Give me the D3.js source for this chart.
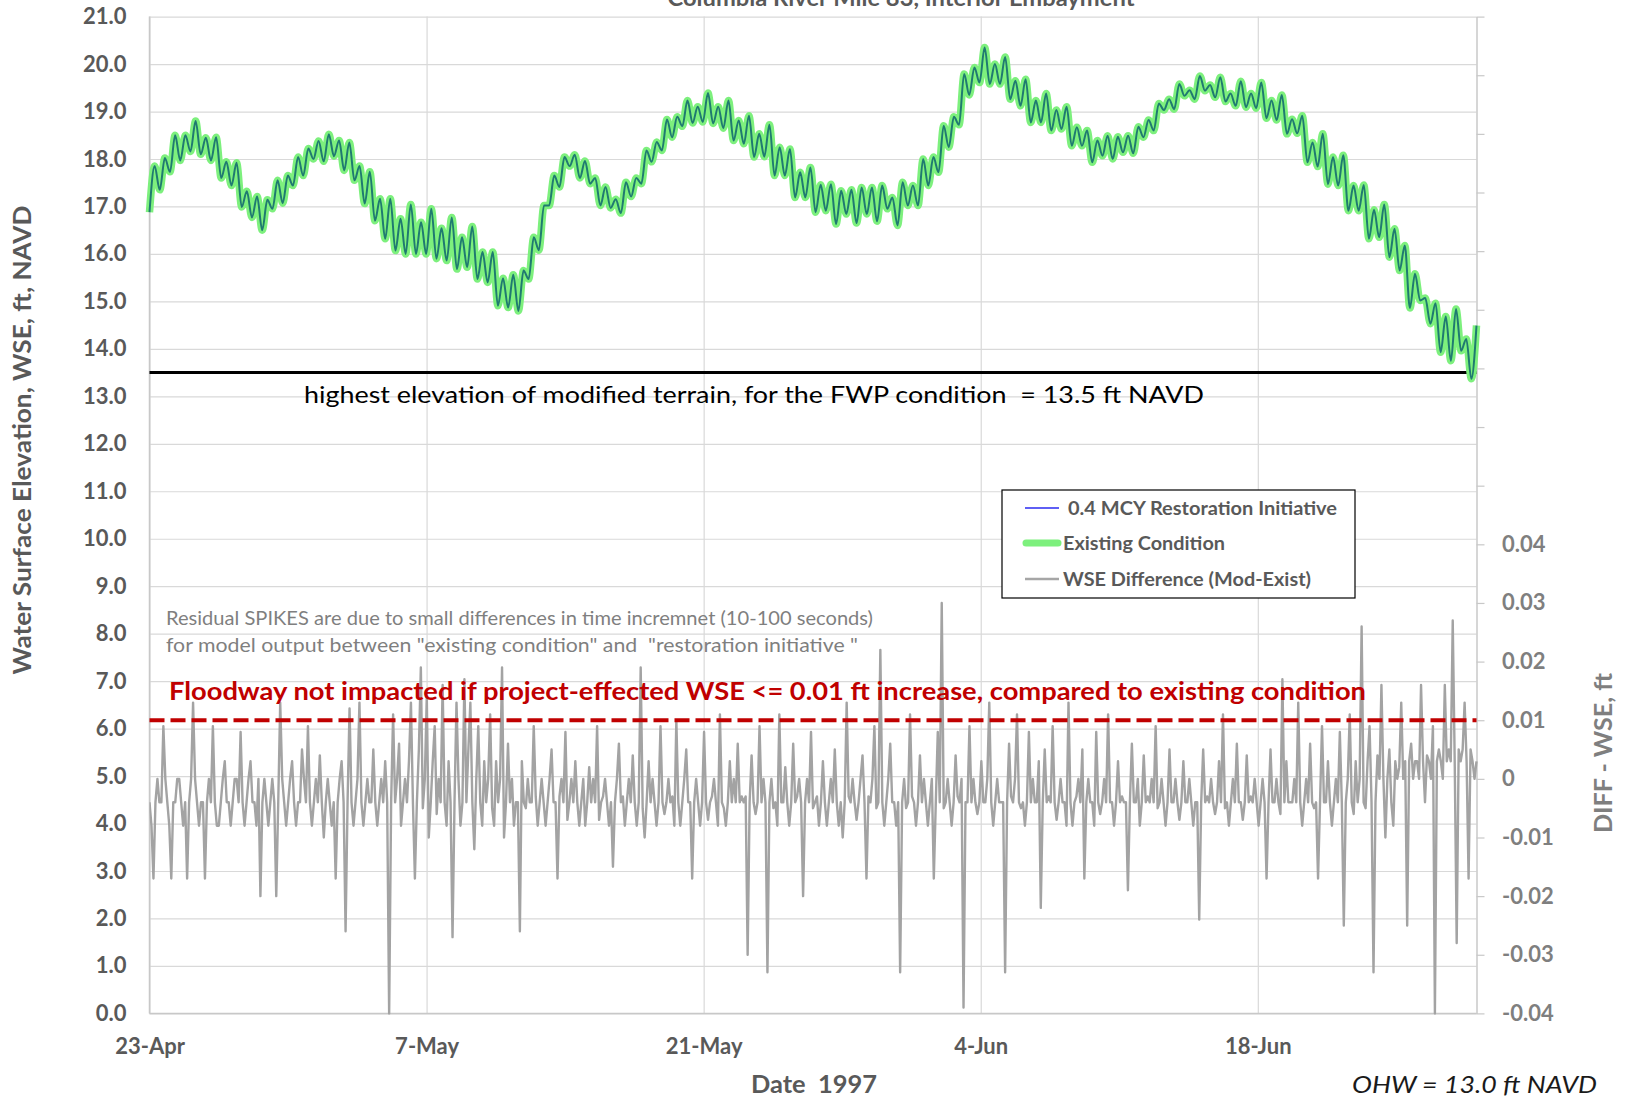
<!DOCTYPE html>
<html><head><meta charset="utf-8">
<script src="https://cdn.jsdelivr.net/npm/d3@7"></script>
<style>
html,body{margin:0;padding:0;background:#fff;}
svg{display:block;font-family:Lato,"Open Sans",sans-serif;}
</style></head><body>
<svg id="chart" width="1628" height="1098"></svg>
<script>
// ---------------- DATA ----------------
const chartTitle = "Columbia River Mile 83, Interior Embayment";
const startDay = "1997-04-23";
const spanDays = 67.05;
const xTickDates = ["1997-04-23","1997-05-07","1997-05-21","1997-06-04","1997-06-18"];
const leftTicks = [0,1,2,3,4,5,6,7,8,9,10,11,12,13,14,15,16,17,18,19,20,21];
const rightTicks = [-0.04,-0.03,-0.02,-0.01,0,0.01,0.02,0.03,0.04,0.05,0.06,0.07,0.08,0.09,0.10,0.11,0.12,0.13];
const rightTickLabels = ["-0.04","-0.03","-0.02","-0.01","0","0.01","0.02","0.03","0.04","","","","","","","","",""];
const seriesNames = ["0.4 MCY Restoration Initiative","Existing Condition","WSE Difference (Mod-Exist)"];
const terrainElevation = 13.5;
const floodwayLimit = 0.01;

// Existing condition WSE (ft NAVD): successive tidal highs/lows, evenly spaced in time
const existingWSE = [
16.88,17.85,17.35,18.02,17.73,18.5,17.97,18.5,18.16,18.8,18.1,18.45,17.97,18.46,17.6,17.94,17.44,17.92,16.99,17.32,
16.77,17.21,16.5,17.14,16.95,17.55,17.07,17.65,17.44,18.04,17.65,18.22,18.0,18.38,17.95,18.52,18.06,18.39,17.76,18.35,
17.55,17.85,17.06,17.73,16.7,17.16,16.32,17.16,16.07,16.74,16.0,17.04,16.0,16.67,16.0,16.95,15.9,16.54,15.86,16.77,
15.68,16.35,15.72,16.58,15.47,16.04,15.4,16.04,14.91,15.49,14.87,15.56,14.8,15.65,15.47,16.35,16.08,17.02,17.02,17.65,
17.41,18.04,17.85,18.09,17.6,17.96,17.48,17.6,17.02,17.41,16.97,17.15,16.86,17.51,17.21,17.6,17.48,18.18,17.94,18.36,
18.18,18.83,18.46,18.89,18.69,19.23,18.76,19.1,18.78,
19.39,18.75,19.1,18.65,19.23,18.39,18.81,18.32,18.91,18.04,
18.53,18.05,18.72,17.65,18.25,17.65,18.21,17.19,17.72,17.19,
17.82,16.88,17.46,16.91,17.47,16.63,17.33,16.84,17.35,16.65,
17.4,16.84,17.4,16.69,17.44,16.95,17.19,16.6,17.51,17.02,
17.44,17.02,18.0,17.44,18.04,17.72,18.7,18.25,18.89,18.72,
19.79,19.35,19.93,19.61,20.35,19.58,20.0,19.58,20.15,19.26,
19.65,19.12,19.68,18.77,19.23,18.77,19.38,18.6,19.03,18.63,
19.1,18.28,18.67,18.28,18.6,17.93,18.39,18.07,18.49,18.0,
18.47,18.14,18.49,18.12,18.68,18.46,18.82,18.6,19.17,19.03,
19.26,19.05,19.58,19.33,19.45,19.26,19.75,19.44,19.56,19.3,
19.72,19.21,19.38,19.12,19.64,19.09,19.38,19.07,19.61,18.86,
19.23,18.82,19.35,18.53,18.84,18.54,18.91,17.93,18.35,17.84,
18.53,17.47,18.04,17.44,18.08,16.91,17.44,16.91,17.45,16.32,
16.93,16.35,17.04,15.93,16.53,15.65,16.18,14.86,15.58,15.02,
15.07,14.53,14.96,13.93,14.68,13.75,14.84,13.96,14.21,13.37,
14.49
];
// Restoration initiative WSE overlaps the existing condition at chart scale
const restorationWSE = existingWSE;

// WSE difference (Mod - Exist), ft, ten readings per day
const diffWSE = [
-0.004,-0.008,-0.017,-0.004,0.000,-0.004,-0.004,0.009,0.000,-0.004,
-0.008,-0.017,-0.004,-0.004,0.000,0.000,-0.004,-0.008,-0.004,-0.017,
-0.004,0.000,0.013,0.000,-0.004,-0.008,-0.004,-0.004,-0.017,-0.004,
0.000,-0.004,0.009,-0.004,-0.008,-0.008,-0.004,0.000,0.003,-0.004,
-0.004,-0.008,-0.004,0.000,0.000,-0.004,0.008,-0.004,-0.008,-0.004,
0.000,0.003,-0.004,-0.004,-0.008,0.000,-0.020,-0.004,0.000,-0.004,
-0.008,-0.004,0.000,-0.004,-0.020,-0.004,0.013,0.000,-0.004,-0.008,
-0.004,0.000,0.003,-0.004,-0.008,-0.004,-0.004,0.005,0.000,-0.004,
0.009,-0.004,-0.008,-0.004,0.000,-0.004,0.004,-0.004,-0.010,-0.004,
0.000,-0.004,-0.008,-0.004,-0.017,-0.004,0.000,0.003,-0.004,-0.026,
-0.004,0.012,-0.004,-0.008,-0.004,0.000,0.013,-0.004,-0.008,-0.004,
0.000,-0.004,-0.004,0.005,-0.004,-0.008,-0.004,0.000,-0.004,0.003,
-0.004,-0.040,-0.004,0.011,-0.004,0.000,0.006,-0.008,-0.004,0.000,
-0.004,0.003,0.013,-0.004,-0.017,-0.004,0.005,0.019,-0.005,0.000,
0.014,-0.010,-0.004,0.003,0.009,-0.006,0.000,-0.004,0.016,-0.004,
-0.008,0.003,-0.004,-0.027,-0.004,0.013,0.000,-0.008,-0.004,0.017,
-0.004,0.005,0.013,-0.004,-0.012,0.000,0.009,-0.004,-0.008,0.003,
-0.004,0.000,0.011,-0.005,-0.008,0.003,-0.004,0.000,0.019,-0.010,
-0.004,0.006,-0.004,0.000,-0.008,-0.004,-0.004,-0.026,0.003,-0.004,
-0.005,0.000,-0.004,-0.004,0.009,-0.003,-0.008,-0.004,0.000,-0.004,
-0.008,-0.004,0.000,0.005,-0.004,-0.004,-0.017,-0.003,0.000,-0.004,
0.008,-0.007,-0.004,0.000,-0.004,0.003,-0.004,-0.008,-0.004,0.000,
-0.008,-0.004,0.002,-0.004,0.000,-0.004,0.009,-0.007,-0.004,-0.003,
0.000,-0.004,-0.008,-0.004,-0.015,-0.004,0.000,0.006,-0.004,-0.003,
-0.008,-0.004,0.000,-0.004,0.004,-0.004,-0.008,-0.004,0.019,-0.005,
-0.010,-0.004,0.003,-0.004,0.000,-0.004,-0.008,-0.004,0.009,-0.004,
-0.006,-0.004,0.000,-0.004,-0.003,-0.008,0.010,-0.004,-0.008,-0.004,
0.000,0.005,-0.004,-0.004,-0.017,-0.004,0.000,-0.004,-0.008,-0.004,
0.008,-0.004,-0.007,-0.004,-0.003,0.000,-0.004,-0.008,0.011,-0.004,
-0.005,-0.008,-0.004,0.003,-0.004,0.000,-0.004,0.006,-0.004,-0.003,
-0.004,-0.003,-0.030,-0.004,0.004,-0.004,-0.006,-0.004,0.009,-0.004,
0.000,-0.004,-0.033,-0.004,0.000,-0.005,-0.004,-0.008,0.011,-0.004,
-0.004,0.002,-0.004,-0.008,-0.004,0.006,-0.004,-0.003,0.000,-0.004,
-0.020,-0.004,0.000,-0.004,0.008,-0.005,-0.004,-0.003,-0.008,-0.004,
0.003,-0.004,-0.008,-0.004,0.000,-0.004,0.005,-0.004,-0.008,-0.004,
-0.010,-0.004,0.013,-0.003,-0.004,0.000,-0.004,-0.007,-0.004,0.000,
0.004,-0.004,-0.017,-0.003,-0.004,0.000,0.009,-0.005,-0.004,0.022,
-0.004,-0.008,-0.004,0.000,0.006,-0.004,-0.004,-0.008,-0.004,-0.033,
-0.004,0.000,-0.005,-0.004,0.011,-0.003,-0.004,-0.008,-0.004,0.004,
-0.004,0.000,-0.004,-0.008,-0.004,0.000,-0.017,-0.004,0.008,-0.004,
0.030,-0.005,-0.004,0.000,-0.004,-0.008,-0.004,0.004,-0.003,-0.004,
0.000,-0.039,-0.004,-0.004,0.009,-0.004,0.000,-0.004,-0.006,-0.004,
0.003,-0.004,-0.004,0.000,0.013,-0.004,-0.008,-0.004,0.000,-0.004,
-0.004,-0.004,-0.033,-0.004,0.006,-0.003,-0.004,0.000,0.011,-0.004,
-0.005,-0.004,-0.008,-0.004,0.008,-0.004,0.000,-0.004,-0.004,0.003,
-0.022,-0.004,0.005,-0.004,-0.003,-0.004,0.009,-0.004,-0.007,-0.004,
0.000,-0.004,-0.004,-0.008,0.013,-0.004,-0.008,-0.004,-0.003,0.000,
-0.004,0.005,-0.017,-0.004,0.000,-0.004,-0.004,-0.008,0.008,-0.004,
-0.006,-0.004,0.000,-0.004,0.011,-0.004,-0.004,-0.008,-0.004,0.003,
-0.004,-0.003,-0.004,-0.004,-0.019,-0.004,0.006,-0.004,-0.004,0.000,
-0.008,-0.004,0.004,-0.004,-0.003,-0.004,0.000,-0.004,0.009,-0.005,
-0.004,0.000,-0.004,-0.008,-0.004,0.005,-0.004,-0.004,0.000,-0.004,
-0.007,-0.004,0.003,-0.004,-0.004,0.000,-0.004,-0.008,-0.004,-0.004,
-0.024,-0.004,0.005,-0.004,-0.003,-0.004,0.000,-0.004,-0.006,-0.004,
0.003,-0.004,0.011,-0.005,-0.004,-0.008,-0.004,0.000,-0.004,0.006,
-0.004,-0.004,-0.007,-0.004,0.004,-0.004,-0.003,-0.004,0.000,-0.004,
-0.008,-0.004,0.000,-0.004,-0.017,-0.004,0.005,-0.004,-0.004,0.000,
-0.004,-0.006,0.017,-0.004,0.003,-0.004,-0.004,-0.004,0.000,-0.004,
0.013,-0.004,-0.008,-0.004,0.000,-0.004,0.006,-0.004,-0.005,-0.004,
-0.017,-0.004,0.009,-0.004,-0.004,0.003,-0.004,-0.008,-0.004,0.000,
-0.004,0.008,-0.004,-0.025,-0.004,0.000,0.011,-0.004,-0.006,0.003,
-0.004,0.000,0.026,-0.004,-0.005,0.003,0.009,-0.004,-0.033,-0.004,
0.004,0.000,0.016,0.000,-0.010,0.000,0.005,-0.004,-0.008,0.003,
0.000,0.002,0.013,0.000,0.003,-0.025,0.003,0.006,0.000,0.003,
0.003,0.000,0.016,0.003,-0.004,0.004,0.003,0.000,0.009,-0.040,
0.003,0.005,0.003,0.000,0.016,0.003,0.005,0.003,0.027,0.003,
-0.028,0.005,0.003,0.005,0.013,0.003,-0.017,0.005,0.003,0.000,
0.003
];

// ---------------- CHART ----------------
const W = 1628, H = 1098;
const M = {left:149.5, right:1476.5, top:16.6, bottom:1013.4};
const svg = d3.select("#chart");
const parse = d3.timeParse("%Y-%m-%d");
const t0 = parse(startDay);
const tEnd = new Date(+t0 + spanDays*864e5);
const x = d3.scaleTime().domain([t0, tEnd]).range([M.left, M.right]);
const yL = d3.scaleLinear().domain([0,21]).range([M.bottom, M.top]);
const yR = d3.scaleLinear().domain([-0.04,0.13]).range([M.bottom, M.top]);

const timesFor = n => d3.range(n).map(i => new Date(+t0 + i*(spanDays/(n-1))*864e5));
const wseTimes = timesFor(existingWSE.length);
const diffTimes = timesFor(diffWSE.length);

// gridlines
svg.append("g").attr("transform",`translate(${M.left},0)`)
  .call(d3.axisLeft(yL).tickValues(leftTicks).tickSize(-(M.right-M.left)).tickFormat(""))
  .call(g=>g.select(".domain").remove())
  .call(g=>g.selectAll("line").attr("stroke","#d9d9d9").attr("stroke-width",1.2));
svg.append("g").attr("transform",`translate(0,${M.bottom})`)
  .call(d3.axisBottom(x).tickValues(xTickDates.map(parse)).tickSize(-(M.bottom-M.top)).tickFormat(""))
  .call(g=>g.select(".domain").remove())
  .call(g=>g.selectAll("line").attr("stroke","#d9d9d9").attr("stroke-width",1.2));

// plot borders (left & bottom)
svg.append("line").attr("x1",M.left).attr("x2",M.left).attr("y1",M.top).attr("y2",M.bottom).attr("stroke","#c8c8c8").attr("stroke-width",1.5);
svg.append("line").attr("x1",M.left).attr("x2",M.right).attr("y1",M.bottom).attr("y2",M.bottom).attr("stroke","#c8c8c8").attr("stroke-width",1.5);

// left tick labels
svg.append("g").attr("transform",`translate(${M.left},0)`)
  .call(d3.axisLeft(yL).tickValues(leftTicks).tickSize(0).tickPadding(23).tickFormat(d3.format(".1f")))
  .call(g=>g.select(".domain").remove())
  .call(g=>g.selectAll("text").attr("font-size",22).attr("font-weight","bold").attr("fill","#595959").attr("font-family","Lato"));

// bottom tick labels
svg.append("g").attr("transform",`translate(0,${M.bottom})`)
  .call(d3.axisBottom(x).tickValues(xTickDates.map(parse)).tickSize(0).tickPadding(25).tickFormat(d3.timeFormat("%-d-%b")))
  .call(g=>g.select(".domain").remove())
  .call(g=>g.selectAll("text").attr("font-size",22).attr("font-weight","bold").attr("fill","#595959").attr("font-family","Lato"));

// right axis
svg.append("g").attr("transform",`translate(${M.right},0)`)
  .call(d3.axisRight(yR).tickValues(rightTicks).tickSize(8).tickSizeOuter(0).tickPadding(17.5)
        .tickFormat((d,i)=>rightTickLabels[i]))
  .call(g=>g.select(".domain").attr("stroke","#c8c8c8").attr("stroke-width",1.5))
  .call(g=>g.selectAll("line").attr("stroke","#c8c8c8").attr("stroke-width",1.2))
  .call(g=>g.selectAll("text").attr("font-size",22).attr("font-weight","bold").attr("fill","#7f7f7f").attr("font-family","Lato"));

// clip
svg.append("clipPath").attr("id","clip").append("rect")
  .attr("x",M.left).attr("y",M.top-10).attr("width",M.right-M.left+2).attr("height",M.bottom-M.top+12);

// difference series
svg.append("path").datum(diffWSE).attr("clip-path","url(#clip)")
  .attr("fill","none").attr("stroke","#a3a3a3").attr("stroke-width",2.4).attr("stroke-linejoin","round")
  .attr("d", d3.line().x((d,i)=>x(diffTimes[i])).y(d=>yR(d)));

// floodway limit dashed line
svg.append("line").attr("x1",M.left).attr("x2",M.right).attr("y1",yR(floodwayLimit)).attr("y2",yR(floodwayLimit))
  .attr("stroke","#c00000").attr("stroke-width",4).attr("stroke-dasharray","15,6");

// terrain line
svg.append("line").attr("x1",M.left).attr("x2",M.right).attr("y1",yL(terrainElevation)).attr("y2",yL(terrainElevation))
  .attr("stroke","#000").attr("stroke-width",3);

// WSE lines
const wseLine = d3.line().curve(d3.curveMonotoneX).x((d,i)=>x(wseTimes[i])).y(d=>yL(d));
svg.append("path").datum(existingWSE).attr("fill","none").attr("stroke","#7df07d").attr("stroke-width",7.5)
  .attr("stroke-linejoin","round").attr("d",wseLine);
svg.append("path").datum(restorationWSE).attr("fill","none").attr("stroke","#1f7a70").attr("stroke-width",2)
  .attr("stroke-linejoin","round").attr("d",wseLine);

// texts
function txt(s, xx, yy, opts){
  const t = svg.append("text").attr("x",xx).attr("y",yy).text(s)
    .attr("font-size",opts.size).attr("font-weight",opts.weight||"normal").attr("fill",opts.fill||"#000")
    .attr("font-style",opts.style||"normal").attr("text-anchor",opts.anchor||"start")
    .attr("font-family",opts.family||"Lato").style("white-space","pre");
  if(opts.len){ t.attr("textLength",opts.len).attr("lengthAdjust","spacingAndGlyphs"); }
  if(opts.transform){ t.attr("transform",opts.transform); }
  return t;
}
txt(chartTitle, 901, 6, {size:22, weight:"bold", fill:"#595959", anchor:"middle", len:467});
txt("highest elevation of modified terrain, for the FWP condition  = 13.5 ft NAVD", 304, 403, {size:24, fill:"#000", len:900});
txt("Residual SPIKES are due to small differences in time incremnet (10-100 seconds)", 166, 625, {size:19, fill:"#7f7f7f", len:707});
txt("for model output between \"existing condition\" and  \"restoration initiative \"", 166, 652, {size:19, fill:"#7f7f7f", len:692});
txt("Floodway not impacted if project-effected WSE <= 0.01 ft increase, compared to existing condition", 169, 700, {size:24, weight:"bold", fill:"#c00000", len:1197});
txt("Date  1997", 814, 1093, {size:24, weight:"bold", fill:"#595959", anchor:"middle", len:126});
txt("OHW = 13.0 ft NAVD", 1352, 1093, {size:24, style:"italic", fill:"#1a1a1a", len:245});
txt("Water Surface Elevation, WSE, ft, NAVD", 0, 0, {size:24, weight:"bold", fill:"#595959", anchor:"middle", len:469, transform:"translate(31,440) rotate(-90)"});
txt("DIFF - WSE, ft", 0, 0, {size:24, weight:"bold", fill:"#7f7f7f", anchor:"middle", len:160, transform:"translate(1612,753) rotate(-90)"});

// legend
const lg = svg.append("g");
lg.append("rect").attr("x",1002).attr("y",490).attr("width",353).attr("height",108).attr("fill","#fff").attr("stroke","#000").attr("stroke-width",1.2);
const legendItems = [
  {name:seriesNames[0], color:"#2a2af0", w:1.5, cap:"butt", x1:1025, x2:1059, tx:1068, y:508, len:269},
  {name:seriesNames[1], color:"#7df07d", w:7, cap:"round", x1:1026, x2:1058, tx:1063, y:543, len:162},
  {name:seriesNames[2], color:"#a6a6a6", w:2.5, cap:"butt", x1:1025, x2:1059, tx:1063, y:579, len:248}
];
legendItems.forEach(it=>{
  lg.append("line").attr("x1",it.x1).attr("x2",it.x2).attr("y1",it.y).attr("y2",it.y)
    .attr("stroke",it.color).attr("stroke-width",it.w).attr("stroke-linecap",it.cap);
  lg.append("text").attr("x",it.tx).attr("y",it.y+7).text(it.name)
    .attr("font-size",19.5).attr("font-weight","bold").attr("fill","#595959").attr("font-family","Lato")
    .attr("textLength",it.len).attr("lengthAdjust","spacingAndGlyphs");
});
</script>
</body></html>
